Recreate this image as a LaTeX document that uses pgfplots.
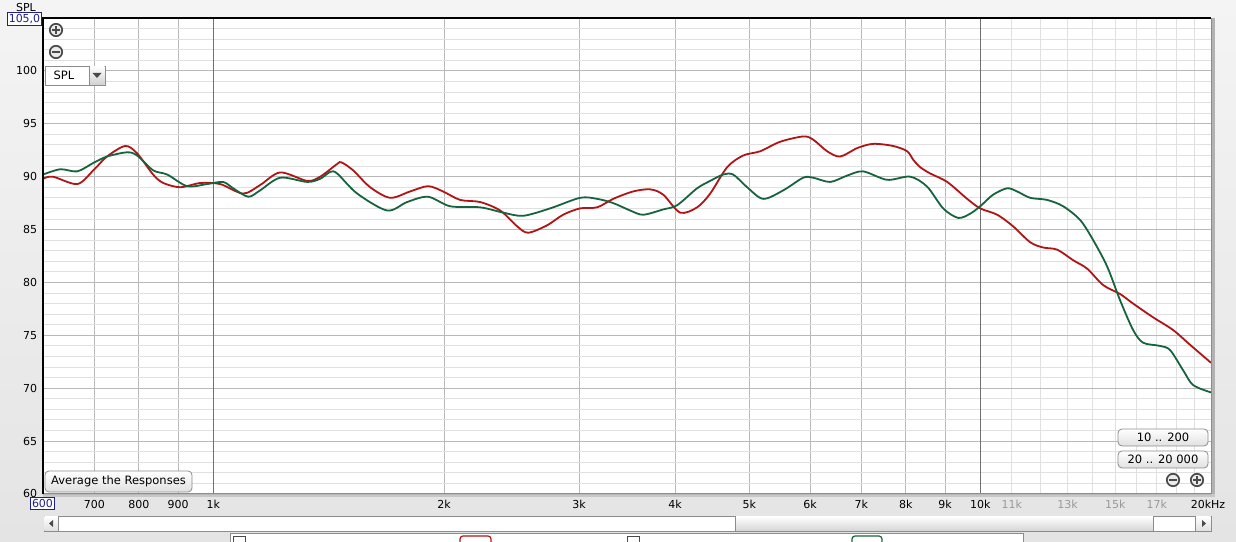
\documentclass[border=0pt]{standalone}
\usepackage{fontspec}
\setmainfont{DejaVu Sans}
\usepackage{pgfplots}
\pgfplotsset{compat=1.18}
\definecolor{bgtop}{HTML}{F4F4F4}
\definecolor{bgbot}{HTML}{E4E4E4}
\definecolor{redc}{HTML}{B01414}
\definecolor{greenc}{HTML}{16643E}
\definecolor{gridmaj}{HTML}{B8B8B8}
\definecolor{gridmin}{HTML}{E0E0E0}
\definecolor{griddark}{HTML}{707070}
\definecolor{navy}{HTML}{20208C}
\definecolor{btnborder}{HTML}{8C8C8C}
\definecolor{icon}{HTML}{4A4A4A}
\tikzset{
  btn/.style={draw=btnborder, rounded corners=4bp, top color=white, bottom color=black!12, line width=0.8bp},
  lbl/.style={font=\fontsize{11bp}{13bp}\selectfont, inner sep=0pt},
}
\begin{document}
\begin{tikzpicture}[x=1bp,y=1bp]
\useasboundingbox (0,0) rectangle (1236,542);
\shade[top color=bgtop, bottom color=bgbot] (0,0) rectangle (1236,542);
% shadow of plot area
\fill[black!30] (1211,46) rectangle (1215,524);
\fill[black!22] (43,45) rectangle (1215,48);
\begin{axis}[
  at={(43bp,48bp)}, anchor=south west,
  width=1168bp, height=476bp, scale only axis,
  xmode=log, xmin=600, xmax=20000, ymin=60, ymax=105,
  axis background/.style={fill=white},
  axis line style={draw=none},
  xtick={700,800,900,2000,3000,4000,5000,6000,7000,8000,9000},
  xticklabels={700,800,900,2k,3k,4k,5k,6k,7k,8k,9k},
  extra x ticks={1000,10000},
  extra x tick labels={1k,10k},
  extra x tick style={grid=major, major grid style={griddark, line width=1bp}},
  minor xtick={11000,12000,13000,14000,15000,16000,17000,18000,19000},
  ytick={60,65,...,100},
  minor ytick={61,62,63,64,66,67,68,69,71,72,73,74,76,77,78,79,81,82,83,84,86,87,88,89,91,92,93,94,96,97,98,99,101,102,103,104},
  grid=both,
  major grid style={gridmaj, line width=0.9bp},
  minor grid style={gridmin, line width=0.9bp},
  major tick length=0pt, minor tick length=0pt,
  tick style={draw=none},
  ticklabel style={font=\fontsize{11bp}{13bp}\selectfont},
  /pgf/number format/assume math mode=true,
  xticklabel style={yshift=-2.5bp},
  yticklabel style={xshift=-2.5bp},
]
\coordinate (t11) at (axis cs:11000,60);
\coordinate (t13) at (axis cs:13000,60);
\coordinate (t15) at (axis cs:15000,60);
\coordinate (t17) at (axis cs:17000,60);
\coordinate (t20) at (axis cs:20000,60);
\addplot[redc, line width=1.8bp, smooth] coordinates {
(600,89.8) (618,90.0) (665,89.3) (698,90.6) (727,91.9) (768,92.9) (796,92.2)
(835,90.2) (861,89.4) (906,89.0) (962,89.4) (1021,89.3) (1094,88.4) (1151,89.2)
(1223,90.4) (1326,89.6) (1379,90.0) (1451,91.2) (1470,91.35) (1522,90.6) (1602,89.0)
(1701,88.0) (1806,88.6) (1906,89.1) (1994,88.6) (2099,87.8) (2229,87.6) (2367,86.8)
(2491,85.3) (2574,84.7) (2725,85.4) (2859,86.4) (3009,87.0) (3167,87.1) (3323,87.9)
(3528,88.6) (3713,88.8) (3861,88.3) (4063,86.6) (4275,87.1) (4446,88.4) (4679,90.9)
(4909,92.0) (5166,92.4) (5486,93.3) (5878,93.8) (6057,93.5) (6317,92.4) (6568,91.9)
(6912,92.7) (7252,93.1) (7701,92.9) (8032,92.4) (8178,91.6) (8351,90.9) (8606,90.3)
(9057,89.5) (9617,87.9) (10000,87.0) (10524,86.4) (11041,85.3) (11619,83.8) (12081,83.3)
(12599,83.1) (13219,82.1) (13787,81.3) (14466,79.75) (15223,78.9) (15828,78.0) (16807,76.7)
(17847,75.5) (18782,74.1) (20000,72.4)
};
\addplot[greenc, line width=1.8bp, smooth] coordinates {
(600,90.2) (632,90.7) (665,90.5) (698,91.3) (727,91.9) (772,92.3) (796,92.0)
(835,90.6) (871,90.2) (925,89.1) (982,89.3) (1030,89.5) (1062,88.9) (1111,88.1)
(1151,88.7) (1223,89.9) (1326,89.5) (1379,89.8) (1421,90.45) (1451,90.3) (1541,88.4)
(1686,86.8) (1790,87.6) (1906,88.1) (2037,87.2) (2229,87.1) (2388,86.6) (2536,86.3)
(2750,87.0) (3009,88.0) (3167,87.9) (3323,87.5) (3497,86.8) (3636,86.4) (3861,86.9)
(4026,87.3) (4275,88.9) (4446,89.6) (4623,90.2) (4763,90.2) (4968,89.0) (5213,87.9)
(5535,88.7) (5878,89.9) (6057,89.9) (6374,89.5) (6707,90.1) (7037,90.5) (7564,89.7)
(8104,90.0) (8529,89.05) (8948,87.0) (9361,86.1) (9704,86.5) (10000,87.2) (10398,88.3)
(10844,88.9) (11174,88.6) (11619,88.0) (12226,87.8) (12828,87.2) (13500,85.9) (14038,84.0)
(14641,81.5) (15223,78.3) (15828,75.5) (16310,74.3) (17164,74.0) (17687,73.6) (18391,71.7)
(18952,70.3) (20000,69.6)
};
\end{axis}
% borders
\draw[black!45, line width=1bp] (43,48) -- (1211,48);
\draw[black!45, line width=1bp] (1211,48) -- (1211,524);
\draw[black, line width=2bp] (43,47.5) -- (43,524) -- (1211,524);
% gray tick labels above 10k
\foreach \c/\t in {t11/11k,t13/13k,t15/15k,t17/17k}{
  \node[lbl, text=black!40, anchor=center] at ([yshift=-10bp]\c) {\t};
}
\node[lbl, anchor=center] at ([yshift=-10bp,xshift=-3bp]t20) {20kHz};
% SPL label, 105,0 box, 600 box
\node[lbl, text=black] at (26,534) {SPL};
\node[lbl, draw=navy, text=navy, fill=white, inner xsep=1.5bp, inner ysep=1.8bp, line width=0.8bp] at (24.5,523) {105,0};
\node[lbl, draw=navy, text=navy, fill=white, inner xsep=1.5bp, inner ysep=1.8bp, line width=0.8bp] at (42.5,38.5) {600};
% top-left zoom icons
\foreach \yy/\pl in {512/1,490/0}{
  \draw[icon, fill=black!8, line width=1.7bp] (56,\yy) circle (6.2bp);
  \draw[icon, line width=2bp] (52.4,\yy) -- (59.6,\yy);
  \ifnum\pl=1 \draw[icon, line width=2bp] (56,\yy-3.6) -- (56,\yy+3.6); \fi
}
% SPL dropdown
\draw[btnborder, fill=white, line width=0.8bp] (45,457) rectangle (105,476);
\shade[top color=white, bottom color=black!18] (89,457.4) rectangle (104.6,475.6);
\draw[btnborder, line width=0.8bp] (89,457) -- (89,476);
\fill[icon] (92.5,469) -- (101.5,469) -- (97,464) -- cycle;
\node[font=\fontsize{11.5bp}{13bp}\selectfont, inner sep=0pt] at (64,466.5) {SPL};
% Average button
\draw[btn] (45,50) rectangle (192,71);
\node[font=\fontsize{11.5bp}{13bp}\selectfont, inner sep=0pt] at (118.5,60.5) {Average the Responses};
% range buttons
\draw[btn] (1118,96) rectangle (1208,113);
\node[font=\fontsize{11.5bp}{13bp}\selectfont, inner sep=0pt] at (1163,104.5) {10 .. 200};
\draw[btn] (1118,74) rectangle (1208,91);
\node[font=\fontsize{11.5bp}{13bp}\selectfont, inner sep=0pt] at (1163,82.5) {20 .. 20 000};
% bottom-right zoom icons
\foreach \xx/\pl in {1173/0,1197/1}{
  \draw[icon, fill=black!8, line width=1.7bp] (\xx,62) circle (6.2bp);
  \draw[icon, line width=2bp] (\xx-3.6,62) -- (\xx+3.6,62);
  \ifnum\pl=1 \draw[icon, line width=2bp] (\xx,58.4) -- (\xx,65.6); \fi
}
% scrollbar
\draw[btnborder, fill=white, line width=0.8bp] (44,11) rectangle (1211,26);
\shade[top color=white, bottom color=black!16] (735,11.4) rectangle (1153,25.6);
\draw[btnborder, line width=0.8bp] (735,11) -- (735,26) (1153,11) -- (1153,26);
\shade[top color=white, bottom color=black!12] (44.4,11.4) rectangle (58,25.6);
\draw[btnborder, line width=0.8bp] (58,11) -- (58,26);
\fill[icon] (49,18.5) -- (53,22) -- (53,15) -- cycle;
\shade[top color=white, bottom color=black!12] (1195,11.4) rectangle (1210.6,25.6);
\draw[btnborder, line width=0.8bp] (1195,11) -- (1195,26);
\fill[icon] (1206,18.5) -- (1202,22) -- (1202,15) -- cycle;
% legend panel (cut off)
\draw[btnborder, fill=white, line width=0.8bp] (230,-2) rectangle (1023,9);
\draw[icon, fill=white, line width=0.8bp] (233,-2) rectangle (245,6);
\draw[icon, fill=white, line width=0.8bp] (627,-2) rectangle (639,6);
\draw[redc, fill=white, line width=1.2bp, rounded corners=3bp] (460,-3) rectangle (491,6);
\draw[greenc, fill=white, line width=1.2bp, rounded corners=3bp] (852,-3) rectangle (882,6);
\end{tikzpicture}
\end{document}
